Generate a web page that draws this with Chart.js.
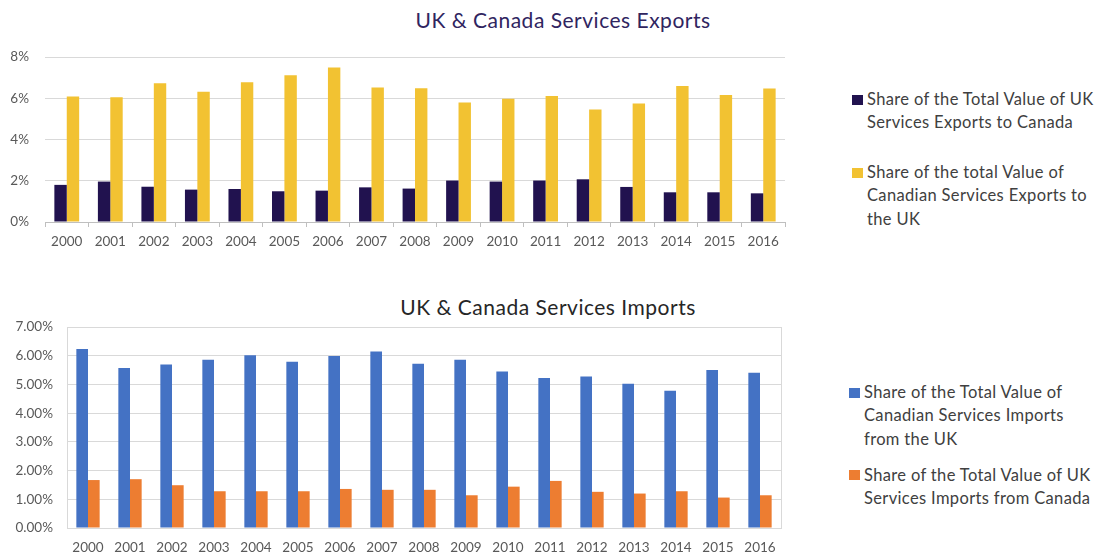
<!DOCTYPE html>
<html>
<head>
<meta charset="utf-8">
<script src="https://cdn.jsdelivr.net/npm/chart.js@4.4.1/dist/chart.umd.min.js"></script>
<style>
  html, body { margin: 0; padding: 0; background: #ffffff; }
  body { width: 1100px; height: 558px; position: relative; overflow: hidden; font-family: Lato, "Open Sans", sans-serif; }
  .box { position: absolute; }
  .title { position: absolute; font-size: 21px; line-height: 26px; letter-spacing: 0.5px; white-space: nowrap; transform: translateX(-50%); }
  .legend { position: absolute; font-size: 16.5px; line-height: 23.3px; letter-spacing: 0.35px; color: #404040; }
  .entry { position: absolute; left: 0; white-space: nowrap; }
  .swatch { position: absolute; width: 11px; height: 10px; }
  .entry .text { position: absolute; left: 15px; top: 0; }
</style>
</head>
<body>
<div class="title" id="exportsTitle" style="left:563px; top:7px; color:#30255f;">UK &amp; Canada Services Exports</div>
<div class="box" style="left:0; top:0; width:800px; height:260px;"><canvas id="exports"></canvas></div>
<div class="legend" id="exportsLegend" style="left:852px; top:0;"></div>

<div class="title" id="importsTitle" style="left:548px; top:294px; color:#262626;">UK &amp; Canada Services Imports</div>
<div class="box" style="left:0; top:290px; width:800px; height:268px;"><canvas id="imports"></canvas></div>
<div class="legend" id="importsLegend" style="left:849px; top:0;"></div>

<script>
// Years on the category axis
const years = ['2000', '2001', '2002', '2003', '2004', '2005', '2006', '2007', '2008',
               '2009', '2010', '2011', '2012', '2013', '2014', '2015', '2016'];

// Services exports, share of total value (%)
const ukExportsToCanada = [1.80, 1.96, 1.71, 1.57, 1.60, 1.49, 1.52, 1.68, 1.62,
                           2.01, 1.96, 2.01, 2.07, 1.70, 1.44, 1.44, 1.39];
const canadaExportsToUK = [6.08, 6.05, 6.73, 6.31, 6.78, 7.12, 7.49, 6.52, 6.48,
                           5.80, 5.98, 6.11, 5.45, 5.74, 6.60, 6.16, 6.47];

// Services imports, share of total value (%)
const canadaImportsFromUK = [6.23, 5.57, 5.69, 5.86, 6.02, 5.79, 5.99, 6.15, 5.72,
                             5.86, 5.45, 5.22, 5.28, 5.02, 4.78, 5.50, 5.41];
const ukImportsFromCanada = [1.67, 1.70, 1.49, 1.28, 1.28, 1.28, 1.36, 1.33, 1.33,
                             1.14, 1.44, 1.64, 1.26, 1.20, 1.28, 1.06, 1.14];

// Series names, split into the lines shown in the legends
const exportNames = [
  ['Share of the Total Value of UK', 'Services Exports to Canada'],
  ['Share of the total Value of', 'Canadian Services Exports to', 'the UK']
];
const importNames = [
  ['Share of the Total Value of', 'Canadian Services Imports', 'from the UK'],
  ['Share of the Total Value of UK', 'Services Imports from Canada']
];

// Axis ranges
const exportTicks = { min: 0, max: 8, step: 2 };
const importTicks = { min: 0, max: 7, step: 1 };

const exportColors = ['#21124f', '#f2c232'];
const importColors = ['#4472c4', '#ed7d31'];

const tickFont = { family: 'Lato', size: 13.5 };
const tickColor = '#595959';

// Strokes a light frame around the plotting area
const plotFrame = {
  id: 'plotFrame',
  afterDraw(chart, args, opts) {
    if (!opts.color) return;
    const a = chart.chartArea, c = chart.ctx;
    c.save();
    c.strokeStyle = opts.color;
    c.lineWidth = 1;
    c.strokeRect(Math.round(a.left) + 0.5, Math.round(a.top) + 0.5,
                 Math.round(a.right - a.left), Math.round(a.bottom - a.top));
    c.restore();
  }
};

// Builds an HTML legend from the chart's datasets
function buildLegend(chart, el, names, firstTop, entryGap, lineH) {
  let top = firstTop;
  chart.data.datasets.forEach((ds, i) => {
    const entry = document.createElement('div');
    entry.className = 'entry';
    entry.style.top = top + 'px';
    const sw = document.createElement('div');
    sw.className = 'swatch';
    sw.style.background = ds.backgroundColor;
    sw.style.left = '0px';
    sw.style.top = ((lineH - 10) / 2) + 'px';
    const text = document.createElement('div');
    text.className = 'text';
    text.innerHTML = names[i].map(s => s.replace(/&/g, '&amp;')).join('<br>');
    entry.appendChild(sw);
    entry.appendChild(text);
    el.appendChild(entry);
    top += names[i].length * lineH + entryGap;
  });
}

function makeChart(id, series, names, colors, range, fmt, geom) {
  return new Chart(document.getElementById(id), {
    type: 'bar',
    data: {
      labels: years,
      datasets: series.map((vals, i) => ({
        label: names[i].join(' '),
        data: vals,
        backgroundColor: colors[i],
        borderWidth: 0,
        barPercentage: 1,
        categoryPercentage: geom.cat
      }))
    },
    options: {
      responsive: true,
      maintainAspectRatio: false,
      animation: false,
      layout: { padding: { top: geom.top, right: geom.right, left: 0, bottom: 0 } },
      plugins: {
        legend: { display: false },
        title: { display: false },
        tooltip: { enabled: false },
        plotFrame: { color: geom.frame }
      },
      scales: {
        x: {
          grid: {
            drawOnChartArea: false,
            drawTicks: geom.xTicks,
            tickLength: 5,
            color: '#bfbfbf',
            offset: true
          },
          border: { display: geom.xBorder, color: '#bfbfbf' },
          ticks: { font: tickFont, color: tickColor, padding: geom.xPad, maxRotation: 0, autoSkip: false },
          afterFit(s) { s.height = geom.xH; s.paddingLeft = 0; s.paddingRight = 0; }
        },
        y: {
          min: range.min,
          max: range.max,
          grid: { color: '#d9d9d9', drawTicks: false },
          border: { display: false },
          ticks: {
            stepSize: range.step,
            font: tickFont,
            color: tickColor,
            padding: geom.yPad,
            callback: fmt
          },
          afterFit(s) { s.width = geom.yW; s.paddingTop = 0; s.paddingBottom = 0; }
        }
      }
    },
    plugins: [plotFrame]
  });
}

const exportsChart = makeChart('exports', [ukExportsToCanada, canadaExportsToUK], exportNames,
  exportColors, exportTicks, v => v + '%',
  { cat: 0.57, top: 57, right: 15, xH: 38, yW: 45, xPad: 7, yPad: 16, xTicks: true, xBorder: true, frame: null });

const importsChart = makeChart('imports', [canadaImportsFromUK, ukImportsFromCanada], importNames,
  importColors, importTicks, v => v.toFixed(2) + '%',
  { cat: 0.555, top: 37, right: 19, xH: 30, yW: 67, xPad: 12, yPad: 14, xTicks: false, xBorder: false, frame: '#d9d9d9' });

buildLegend(exportsChart, document.getElementById('exportsLegend'), exportNames, 88, 26.4, 23.3);
buildLegend(importsChart, document.getElementById('importsLegend'), importNames, 381, 12.7, 23.3);
</script>
</body>
</html>
